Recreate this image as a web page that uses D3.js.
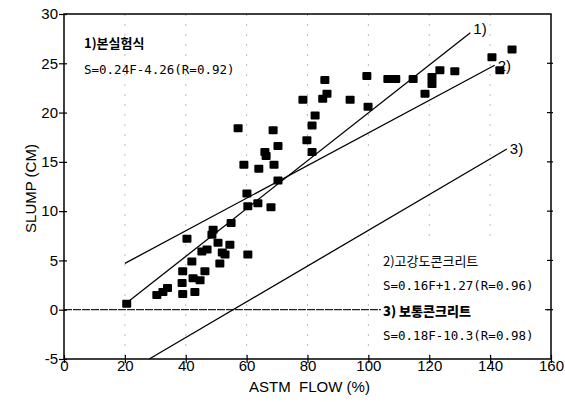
<!DOCTYPE html>
<html>
<head>
<meta charset="utf-8">
<script src="https://cdnjs.cloudflare.com/ajax/libs/d3/7.8.5/d3.min.js"></script>
<style>
  html, body { margin: 0; padding: 0; background: #fff; }
  svg { display: block; }
</style>
</head>
<body>
<svg id="chart"></svg>
<script>
"use strict";

// measured points (ASTM flow %, slump cm)
var flow = [20.6, 30.5, 32.5, 34, 38.8, 39, 42.4, 44.7, 46.3, 39, 43, 40.4, 42,
  45.3, 47, 48.6, 49, 50.6, 51.2, 52, 52.9, 54.5, 54.9, 57.2, 59.1, 60.1, 60.4,
  60.4, 63.7, 64, 66, 66.4, 68, 68.7, 69, 70.3, 70.3, 78.5, 79.8, 81.5, 82.5,
  81.5, 85, 86.4, 85.7, 94, 99.5, 99.9, 106.4, 109, 114.7, 118.6, 120.9, 120.9,
  123.5, 128.4, 140.6, 143.2, 147.2];
var slump = [0.6, 1.5, 1.8, 2.2, 2.7, 3.9, 3.2, 3.0, 3.9, 1.6, 1.8, 7.2, 4.9,
  5.9, 6.1, 7.6, 8.1, 6.8, 4.7, 5.8, 5.6, 6.6, 8.8, 18.4, 14.7, 11.8, 10.5,
  5.6, 10.8, 14.3, 16, 15.6, 10.4, 18.2, 14.7, 16.6, 13.1, 21.3, 17.2, 18.7, 19.7,
  16, 21.4, 21.9, 23.3, 21.3, 23.7, 20.6, 23.4, 23.4, 23.4, 21.9, 22.9, 23.6,
  24.3, 24.2, 25.6, 24.3, 26.4];

// regression lines, end points
var lineNames = ["1)", "2)", "3)"];
var lineStart = [[20, 0.55], [20, 4.7], [28, -5]];
var lineEnd = [[133.5, 28.1], [141.5, 24.8], [145.5, 16.3]];

var xTicks = [0, 20, 40, 60, 80, 100, 120, 140, 160];
var yTicks = [-5, 0, 5, 10, 15, 20, 25, 30];

var legendTop = ["1)본실험식", "S=0.24F-4.26(R=0.92)"];
var legendBottom = ["2)고강도콘크리트", "S=0.16F+1.27(R=0.96)", "3) 보통콘크리트", "S=0.18F-10.3(R=0.98)"];

var W = 565, H = 402;
var svg = d3.select("#chart").attr("width", W).attr("height", H);

var x = d3.scaleLinear().domain([0, 160]).range([64, 551]);
var y = d3.scaleLinear().domain([-5, 30]).range([359, 14]);

// faint vertical grid
svg.append("g").selectAll("line")
  .data(xTicks.slice(1, -1))
  .enter().append("line")
  .attr("x1", function (d) { return x(d); })
  .attr("x2", function (d) { return x(d); })
  .attr("y1", y(30)).attr("y2", y(-5))
  .attr("stroke", "#aaa")
  .attr("stroke-width", 0.8)
  .attr("stroke-dasharray", "2,8");

// zero line
svg.append("line")
  .attr("x1", x(0)).attr("x2", x(160))
  .attr("y1", y(0)).attr("y2", y(0))
  .attr("stroke", "#222")
  .attr("stroke-width", 1.2)
  .attr("stroke-dasharray", "8,1");

// regression lines
var lines = svg.append("g");
lineNames.forEach(function (name, i) {
  lines.append("line")
    .attr("x1", x(lineStart[i][0])).attr("y1", y(lineStart[i][1]))
    .attr("x2", x(lineEnd[i][0])).attr("y2", y(lineEnd[i][1]))
    .attr("stroke", "#000")
    .attr("stroke-width", 1.3);
  lines.append("text")
    .attr("x", x(lineEnd[i][0]) + 3)
    .attr("y", y(lineEnd[i][1]) - (i === 0 ? 4 : 0))
    .attr("dy", "0.35em")
    .attr("font-family", "Liberation Sans, Arial, sans-serif")
    .attr("font-size", 15)
    .text(name);
});

// points
svg.append("g").selectAll("rect")
  .data(flow)
  .enter().append("rect")
  .attr("x", function (d) { return x(d) - 4.5; })
  .attr("y", function (d, i) { return y(slump[i]) - 4; })
  .attr("width", 9)
  .attr("height", 8)
  .attr("rx", 1)
  .attr("fill", "#000");

// white box behind lower legend
svg.append("rect")
  .attr("x", 381).attr("y", 244)
  .attr("width", 164).attr("height", 106)
  .attr("fill", "#fff");

var mono = "DejaVu Sans Mono, monospace";
var kor = "Noto Sans CJK KR, sans-serif";

svg.append("text")
  .attr("x", 84).attr("y", 43).attr("dy", "0.35em")
  .attr("font-family", kor).attr("font-size", 13).attr("font-weight", "bold")
  .text(legendTop[0]);
svg.append("text")
  .attr("x", 84).attr("y", 70).attr("dy", "0.35em")
  .attr("font-family", mono).attr("font-size", 12.5)
  .text(legendTop[1]);

var lowY = [261, 286, 311, 336];
legendBottom.forEach(function (t, i) {
  svg.append("text")
    .attr("x", 383).attr("y", lowY[i]).attr("dy", "0.35em")
    .attr("font-family", i % 2 === 0 ? kor : mono)
    .attr("font-size", i % 2 === 0 ? 13 : 12.5)
    .attr("font-weight", i === 2 ? "900" : "normal")
    .text(t);
});

// frame
svg.append("rect")
  .attr("x", x(0)).attr("y", y(30))
  .attr("width", x(160) - x(0)).attr("height", y(-5) - y(30))
  .attr("fill", "none")
  .attr("stroke", "#000")
  .attr("stroke-width", 1.5);

// axes
var font = "Liberation Sans, Arial, sans-serif";
var plain = function (d) { return String(d); };

var xAxis = svg.append("g")
  .attr("transform", "translate(0," + y(-5) + ")")
  .call(d3.axisBottom(x).tickValues(xTicks).tickFormat(plain).tickSize(4).tickSizeOuter(0));
xAxis.selectAll(".tick line").attr("y1", -4).attr("stroke-width", 1.2);
xAxis.select(".domain").remove();
xAxis.selectAll("text").attr("font-family", font).attr("font-size", 15)
  .attr("y", 1).attr("dy", "0.71em").attr("fill", "#000");

var yAxis = svg.append("g")
  .attr("transform", "translate(" + x(0) + ",0)")
  .call(d3.axisLeft(y).tickValues(yTicks).tickFormat(plain).tickSize(5).tickSizeOuter(0));
yAxis.selectAll(".tick line").attr("x1", 3).attr("stroke-width", 1.2);
yAxis.select(".domain").remove();
yAxis.selectAll("text").attr("font-family", font).attr("font-size", 15).attr("x", -6).attr("fill", "#000");

// right-side ticks
svg.append("g").selectAll("line")
  .data(yTicks.slice(1, -1))
  .enter().append("line")
  .attr("x1", x(160) - 4).attr("x2", x(160) + 2)
  .attr("y1", function (d) { return y(d); })
  .attr("y2", function (d) { return y(d); })
  .attr("stroke", "#000").attr("stroke-width", 1.2);

svg.append("text")
  .attr("x", (x(0) + x(160)) / 2 + 2).attr("y", 392)
  .attr("text-anchor", "middle")
  .attr("font-family", font).attr("font-size", 15)
  .attr("xml:space", "preserve")
  .text("ASTM  FLOW (%)");

svg.append("text")
  .attr("transform", "translate(36," + ((y(30) + y(-5)) / 2 + 2) + ") rotate(-90)")
  .attr("text-anchor", "middle")
  .attr("font-family", font).attr("font-size", 15)
  .text("SLUMP (CM)");
</script>
</body>
</html>
